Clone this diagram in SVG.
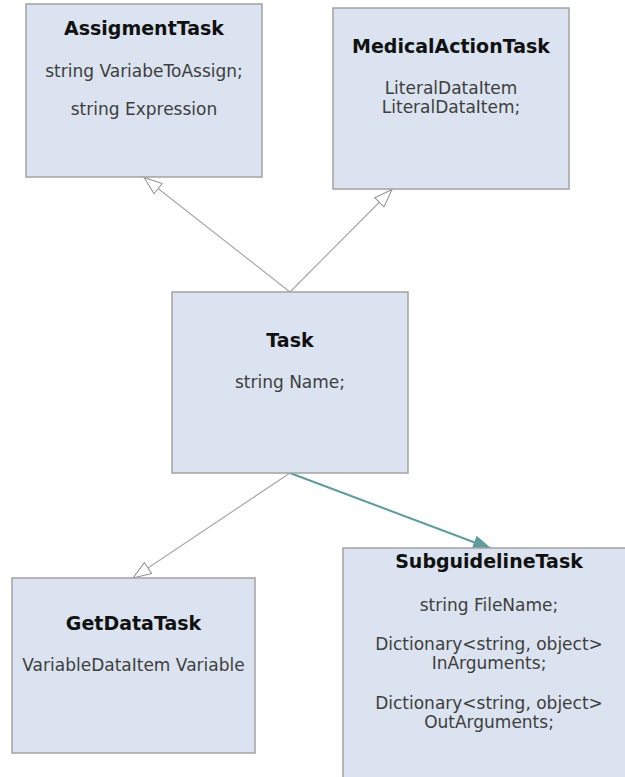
<svg xmlns="http://www.w3.org/2000/svg" width="625" height="777" viewBox="0 0 625 777">
<style>
.box{fill:#dae3ef;stroke:#a3a3a3;stroke-width:1.5}
.t{font-family:"DejaVu Sans",Verdana,sans-serif;font-size:19px;font-weight:bold;fill:#111;text-anchor:middle}
.a{font-family:"DejaVu Sans",Verdana,sans-serif;font-size:17px;fill:#3e3e3e;text-anchor:middle}
.g{stroke:#a8a8a8;stroke-width:1.2;fill:none}
.teal{stroke:#5e9c9c;stroke-width:2;fill:none}
</style>
<defs>
<marker id="hollow" markerUnits="userSpaceOnUse" markerWidth="22" markerHeight="16" refX="19" refY="7" orient="auto" overflow="visible">
<path d="M1,0.5 L19,7 L1,13.5 Z" fill="#fff" stroke="#909090" stroke-width="1"/>
</marker>
<marker id="filled" markerUnits="userSpaceOnUse" markerWidth="22" markerHeight="16" refX="19" refY="7" orient="auto" overflow="visible">
<path d="M0,0 L19,7 L0,14 Z" fill="#5e9c9c"/>
</marker>
</defs>
<g id="connectors">
<line class="g" x1="290" y1="292" x2="144" y2="177.5" marker-end="url(#hollow)"/>
<line class="g" x1="290" y1="292" x2="392" y2="189.5" marker-end="url(#hollow)"/>
<line class="g" x1="290" y1="473" x2="133" y2="578" marker-end="url(#hollow)"/>
<line class="teal" x1="290" y1="473" x2="492" y2="549" marker-end="url(#filled)"/>
</g>
<g id="AssigmentTask">
<rect class="box" x="26" y="4" width="236" height="173"/>
<text class="t" x="144" y="35">AssigmentTask</text>
<text class="a" x="144" y="77">string VariabeToAssign;</text>
<text class="a" x="144" y="115">string Expression</text>
</g>
<g id="MedicalActionTask">
<rect class="box" x="333" y="8" width="236" height="181"/>
<text class="t" x="451" y="53">MedicalActionTask</text>
<text class="a" x="451" y="94">LiteralDataItem</text>
<text class="a" x="451" y="113">LiteralDataItem;</text>
</g>
<g id="Task">
<rect class="box" x="172" y="292" width="236" height="181"/>
<text class="t" x="290" y="347">Task</text>
<text class="a" x="290" y="388">string Name;</text>
</g>
<g id="GetDataTask">
<rect class="box" x="12" y="578" width="243" height="175"/>
<text class="t" x="133.5" y="630">GetDataTask</text>
<text class="a" x="133.5" y="671">VariableDataItem Variable</text>
</g>
<g id="SubguidelineTask">
<rect class="box" x="343" y="548" width="300" height="250"/>
<text class="t" x="489" y="568">SubguidelineTask</text>
<text class="a" x="489" y="611">string FileName;</text>
<text class="a" x="489" y="650">Dictionary&lt;string, object&gt;</text>
<text class="a" x="489" y="669">InArguments;</text>
<text class="a" x="489" y="709">Dictionary&lt;string, object&gt;</text>
<text class="a" x="489" y="728">OutArguments;</text>
</g>
</svg>
